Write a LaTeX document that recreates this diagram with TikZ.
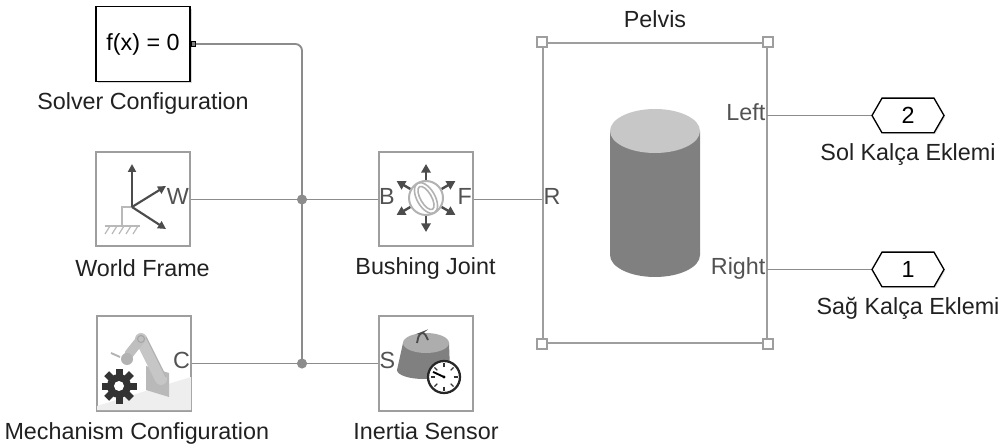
\documentclass[tikz,border=0pt]{standalone}
\usepackage{fontspec}
\setmainfont{Liberation Sans}
\usetikzlibrary{positioning,shapes.symbols,shadows,arrows.meta}

\definecolor{wirecol}{gray}{0.55}
\definecolor{framecol}{gray}{0.62}
\definecolor{portcol}{gray}{0.32}
\definecolor{txtcol}{gray}{0.13}
\definecolor{iconcol}{gray}{0.3}

\begin{document}
\begin{tikzpicture}[x=0.75pt,y=-0.75pt,
  font=\fontsize{17.5}{21}\selectfont,
  block/.style={draw=framecol,line width=1.5pt,fill=white,minimum width=70.5pt,minimum height=70.5pt,inner sep=0pt},
  lbl/.style={text=txtcol,inner sep=0pt,text height=0.72em,text depth=0pt},
  port/.style={text=portcol,inner sep=1pt,text height=0.72em,text depth=0pt},
  wire/.style={draw=wirecol,line width=1.4pt},
  handle/.style={draw=framecol,fill=white,line width=1pt,minimum size=7.5pt,inner sep=0pt},
  outport/.style={draw=black,line width=1pt,fill=white,signal,signal to=west and east,signal pointer angle=120,
    minimum width=54pt,minimum height=26pt,inner sep=0pt,drop shadow={opacity=0.2,shadow xshift=1pt,shadow yshift=-1pt}},
  axis/.style={draw=iconcol,line width=1.6pt,-{Triangle[length=6pt,width=6pt]}}]

\useasboundingbox (0,0) rectangle (1005,448);

% blocks
\node[block,draw=black,line width=1pt,minimum height=56pt,text=black,
  drop shadow={opacity=0.3,shadow xshift=1.5pt,shadow yshift=-1.5pt}] (solver) at (143,44) {f(x) = 0};
\node[block] (world) at (142.5,199.5) {};
\node[block] (mech) at (143.5,363.5) {};
\node[block] (bush) at (425.5,199.5) {};
\node[block] (inertia) at (426,363.5) {};
\node[draw=framecol,line width=1.5pt,minimum width=168pt,minimum height=225pt,inner sep=0pt] (pelvis) at (655,193) {};
\foreach \c in {north west,north east,south west,south east}
  \node[handle] at (pelvis.\c) {};

\node[outport] (hexL) at (908,115.5) {2};
\node[outport] (hexR) at (908,269.5) {1};

\node[draw=black,fill=gray,minimum size=3.5pt,inner sep=0pt,anchor=west] (sport) at (solver.east) {};
\coordinate (jW) at (302,199.5);
\coordinate (jC) at (302,363.5);
\coordinate (pR) at (pelvis.west |- bush.east);
\coordinate (pL) at (767,115.5);
\coordinate (pRt) at (767,269.5);

% wires
\draw[wire,rounded corners=5pt] (sport.east) -| (jC);
\draw[wire] (world.east) -- (jW) -- (bush.west);
\draw[wire] (mech.east) -- (jC) -- (inertia.west);
\draw[wire] (bush.east) -- (pR);
\draw[wire] (pL) -- (hexL.west);
\draw[wire] (pRt) -- (hexR.west);
\fill[wirecol] (jW) circle (3.8pt);
\fill[wirecol] (jC) circle (3.8pt);

% port names
\node[port,anchor=east] at (world.east) {W};
\node[port,anchor=west] at (bush.west) {B};
\node[port,anchor=east] at (bush.east) {F};
\node[port,anchor=east] at (mech.east) {C};
\node[port,anchor=west] at (inertia.west) {S};
\node[port,anchor=west] at (pR) {R};
\node[port,anchor=east] at (pL) {Left};
\node[port,anchor=east] at (pRt) {Right};

% block names
\node[lbl,below=13pt of solver] {Solver Configuration};
\node[lbl,below=14pt of world] {World Frame};
\node[lbl,below=13.5pt of mech,xshift=-5pt] {Mechanism Configuration};
\node[lbl,below=13pt of bush] {Bushing Joint};
\node[lbl,below=13.5pt of inertia] {Inertia Sensor};
\node[lbl,above=11pt of pelvis] {Pelvis};
\node[lbl,below=13pt of hexL] {Sol Kalça Eklemi};
\node[lbl,below=13pt of hexR] {Sağ Kalça Eklemi};

% world frame icon
\draw[gray!55,line width=1pt] (132,207) -- (122,207) -- (122,226);
\draw[gray!55,line width=1pt] (105,226) -- (140,226);
\foreach \x in {110,117,124,131,138}
  \draw[gray!55,line width=0.9pt] (\x,226) -- (\x-5,234);
\draw[axis] (132,207) -- (132,164);
\draw[axis] (132,207) -- (166,186);
\draw[axis] (132,207) -- (166,229);

% bushing icon
\foreach \a in {30,90,...,330}
  \draw[axis,line width=1.8pt,-{Triangle[length=6.5pt,width=7pt]},shift={(426,198)}] (\a:18) -- (\a:34);
\draw[gray!60,line width=1.5pt] (426,198) circle (17);
\draw[gray!60,line width=1.2pt,rotate around={-60:(426,198)}] (426,198) ellipse (17 and 9);
\draw[gray!60,line width=1.2pt,rotate around={-60:(426,198)}] (426,198) ellipse (13 and 5.5);

% mechanism icon
\fill[gray!13] (97,406) -- (191,377) -- (191,410) -- (97,410) -- cycle;
\fill[gray!55] (146,366) -- (169,373) -- (169,397) -- (146,390) -- cycle;
\draw[gray!45,line width=9pt,line cap=round] (141,339) -- (161,379);
\draw[gray!60,line width=0.8pt] (146,337) -- (166,377);
\draw[gray!50,line width=7pt,line cap=round] (141,339) -- (129,354);
\fill[gray!60] (127,359) circle (6);
\draw[gray!60,line width=1.4pt] (120,357) -- (111,353);
\draw[gray!70,line width=0.8pt] (141,339) circle (3.5);
\fill[black!80] (119,386) circle (12);
\foreach \a in {0,45,...,315}
  \fill[black!80,rotate around={\a:(119,386)}] (115.5,368.5) rectangle (122.5,376);
\fill[white] (119,386) circle (5);

% inertia sensor icon
\fill[black!50] (403,343) -- (397,370) arc (180:0:26.5 and 9) -- (449,343) -- cycle;
\fill[black!32] (426,343) ellipse (23 and 10);
\draw[black!70,line width=1.4pt,rounded corners=2.5pt] (417,343) -- (419,334) -- (424,332) -- (428,340);
\filldraw[fill=white,draw=black!85,line width=1.7pt] (444,377) circle (16);
\foreach \a in {0,45,...,315}
  \draw[black!80,line width=0.9pt,shift={(444,377)}] (\a:9.5) -- (\a:13.5);
\draw[black,line width=1.4pt] (444,377) -- ++(205:12);
\fill (444,377) circle (1.6);

% pelvis body
\fill[black!50] (610,131) -- (610,255) arc (180:0:45 and 22) -- (700,131) -- cycle;
\fill[black!22] (655,131) ellipse (45 and 22);

\end{tikzpicture}
\end{document}
